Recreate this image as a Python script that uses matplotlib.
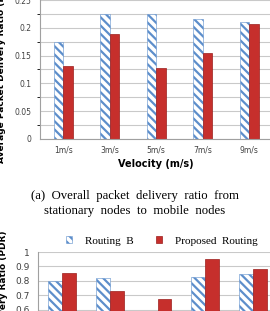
import matplotlib.pyplot as plt
import numpy as np
from matplotlib.ticker import MultipleLocator

# data
velocities = ["1m/s", "3m/s", "5m/s", "7m/s", "9m/s"]
pdr_b_static = [0.174, 0.225, 0.225, 0.216, 0.210]
pdr_prop_static = [0.131, 0.189, 0.128, 0.155, 0.207]

pdr_b_mobile = [0.80, 0.82, 0.55, 0.825, 0.845]
pdr_prop_mobile = [0.855, 0.73, 0.675, 0.95, 0.88]

W, H = 270, 311
fig = plt.figure(figsize=(W / 100, H / 100), dpi=100)

blue = "#5d8ecb"
red = "#c62f2c"
red_edge = "#9b1e1c"
grid_c = "#c9c9c9"
tick_c = "#404040"
sans = "DejaVu Sans"
serif = "Liberation Serif"
plt.rcParams["hatch.linewidth"] = 1.6
plt.rcParams["hatch.color"] = blue


def px_axes(left, top, width, height):
    return fig.add_axes([left / W, 1 - (top + height) / H, width / W, height / H])


def style(ax):
    for s in ["top", "right"]:
        ax.spines[s].set_visible(False)
    ax.spines["left"].set_color("#a0a0a0")
    ax.spines["bottom"].set_color("#a0a0a0")
    ax.set_axisbelow(True)
    ax.tick_params(axis="both", length=0, labelsize=5.5, colors=tick_c)
    ax.tick_params(axis="y", pad=6)


x = np.arange(len(velocities))

# top chart: stationary -> mobile
ax1 = px_axes(40, 0, 232.5, 139)
bw = 0.2
ax1.bar(x - bw / 2, pdr_b_static, bw, color="white", edgecolor=blue, hatch="\\\\\\\\", linewidth=0.4)
ax1.bar(x + bw / 2, pdr_prop_static, bw, color=red, edgecolor=red_edge, linewidth=0.5)
ax1.set_xlim(-0.5, 4.5)
ax1.set_ylim(0, 0.25)
ax1.yaxis.set_minor_locator(MultipleLocator(0.025))
ax1.set_yticks([0, 0.05, 0.1, 0.15, 0.2, 0.25])
ax1.set_yticklabels(["0", "0.05", "0.1", "0.15", "0.2", "0.25"])
ax1.grid(axis="y", which="both", color=grid_c, linewidth=0.8)
ax1.set_xticks(x)
ax1.set_xticklabels(velocities)
style(ax1)
ax1.tick_params(axis="x", pad=5)
ax1.set_xlabel("Velocity (m/s)", fontsize=7, fontweight="bold", family=sans, labelpad=3)
ax1.set_ylabel("Average Packet Delivery Ratio (PDR)", fontsize=6.5, fontweight="bold",
               family=sans, labelpad=6)

fig.text(0.5, 1 - 196 / H, "(a)  Overall  packet  delivery  ratio  from",
         ha="center", va="center", family=serif, fontsize=9.2)
fig.text(0.5, 1 - 211 / H, "stationary  nodes  to  mobile  nodes",
         ha="center", va="center", family=serif, fontsize=9.2)

# bottom chart (cut off by the crop)
ax2 = px_axes(38, 252, 239, 144)
bw2 = 0.29
ax2.bar(x - bw2 / 2, pdr_b_mobile, bw2, color="white", edgecolor=blue, hatch="\\\\\\\\",
        linewidth=0.4, label="Routing  B")
ax2.bar(x + bw2 / 2, pdr_prop_mobile, bw2, color=red, edgecolor=red_edge, linewidth=0.5,
        label="Proposed  Routing")
ax2.set_xlim(-0.5, 4.5)
ax2.set_ylim(0, 1)
ax2.set_yticks(np.arange(0, 1.01, 0.1))
ax2.set_yticklabels(["0", "0.1", "0.2", "0.3", "0.4", "0.5", "0.6", "0.7", "0.8", "0.9", "1"])
ax2.grid(axis="y", color=grid_c, linewidth=0.8)
ax2.set_xticks([])
style(ax2)
ax2.tick_params(axis="y", labelsize=6.5)
ax2.set_ylabel("Average Packet Delivery Ratio (PDR)", fontsize=6.5, fontweight="bold",
               family=sans, labelpad=5)
fig.legend(loc="center", bbox_to_anchor=(0.6, 1 - 241 / H), ncol=2, frameon=False,
           prop={"family": serif, "size": 8}, handlelength=0.5, handleheight=0.5,
           columnspacing=2.0, handletextpad=1.2)

fig.savefig("out.png", dpi=100)
